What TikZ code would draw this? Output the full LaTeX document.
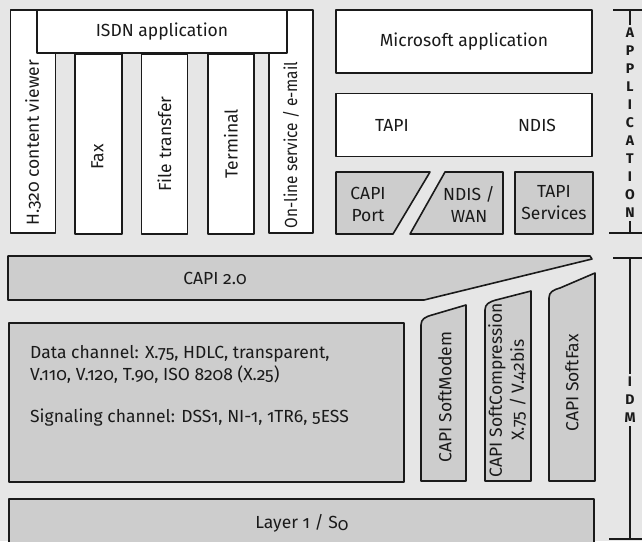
\documentclass[tikz,border=0pt]{standalone}
\usepackage{fontspec}
\setmainfont{Fira Sans}[Numbers=OldStyle]
\usetikzlibrary{positioning}

\definecolor{bggray}{HTML}{E6E6E6}
\definecolor{boxgray}{HTML}{CDCDCD}
\definecolor{edge}{HTML}{1A1A1A}

\tikzset{
  whitebox/.style={draw=edge, fill=white, line width=1.6pt, line join=round, inner sep=0pt},
  graybox/.style={draw=edge, fill=boxgray, line width=1.6pt, line join=round, inner sep=0pt},
  lbl/.style={font=\fontsize{17.5}{22}\selectfont, inner sep=0pt, align=center, text=edge},
  coltext/.style={lbl, rotate=90},
  bracket/.style={draw=edge, line width=1.5pt},
  sidetag/.style={fill=bggray, align=center, inner sep=3pt, text=edge,
    font=\fontsize{14}{18}\selectfont\bfseries}
}

\begin{document}
\begin{tikzpicture}[x=1pt, y=-1pt]
\clip (0,0) rectangle (642,541);
\fill[bggray] (0,0) rectangle (642,541);

\node[whitebox, minimum width=45pt, minimum height=223pt] (h320) at (33,121.5) {};
\node[whitebox, minimum width=44pt, minimum height=223pt] (online) at (291,121.5) {};
\node[whitebox, minimum width=250pt, minimum height=43pt] (isdn) at (162,31.5) {};
\node[lbl] (isdntxt) at (isdn.center) {ISDN application};
\node[whitebox, minimum width=47pt, minimum height=180pt, anchor=north west] (fax) at (74,53) {};
\node[whitebox, minimum width=46pt, minimum height=180pt, right=18pt of fax] (filetr) {};
\node[whitebox, minimum width=46pt, minimum height=180pt, right=19pt of filetr] (term) {};
\node[coltext] (h320txt) at (33,143) {H.320 content viewer};
\node[coltext] (faxtxt) at (97.5,157) {Fax};
\node[coltext] (filetxt) at (filetr.center) {File transfer};
\node[coltext] (termtxt) at (term.center) {Terminal};
\node[coltext] (onlinetxt) at (291,145) {\scalebox{0.88}[1]{On-line service / e-mail}};

\node[whitebox, minimum width=256pt, minimum height=63pt] (msapp) at (464,41.5) {};
\node[lbl] (msapptxt) at (msapp.center) {Microsoft application};
\node[whitebox, minimum width=256pt, minimum height=63pt, below=19pt of msapp] (apilayer) {};
\node[lbl] (tapi) at (392,125) {TAPI};
\node[lbl] (ndis) at (537,125) {NDIS};
\draw[graybox] (336,172) -- (430,172) -- (393,234) -- (336,234) -- cycle;
\node[lbl] (capiport) at (368,204) {CAPI\\Port};
\draw[graybox] (445,172) -- (503,172) -- (503,234) -- (410,234) -- cycle;
\node[lbl] (ndiswan) at (469,204) {NDIS /\\WAN};
\node[graybox, minimum width=78pt, minimum height=62pt] (tapisvc) at (554,203) {};
\node[lbl] (tapisvctxt) at (tapisvc.center) {TAPI\\Services};

\draw[graybox] (8,256) -- (590,256) -- (592,259) -- (424,300) -- (8,300) -- cycle;
\node[lbl] (capi) at (215,278) {CAPI 2.0};
\node[graybox, minimum width=395pt, minimum height=159pt, anchor=north west] (datach) at (8,322) {};
\node[lbl, align=left, anchor=west] (datatxt) at (30,364) {Data channel: X.75, HDLC, transparent,\\V.110, V.120, T.90, ISO 8208 (X.25)};
\node[lbl, anchor=west] (sigtxt) at (30,418) {Signaling channel: DSS1, NI-1, 1TR6, 5ESS};
\draw[graybox] (421,481) -- (421,325) .. controls (421,319) and (425,317) .. (432,315) -- (466,305) -- (466,481) -- cycle;
\node[coltext] (softmodem) at (445,397) {CAPI SoftModem};
\draw[graybox] (485,481) -- (485,310) .. controls (485,304) and (489,302) .. (496,300) -- (531,291) -- (531,481) -- cycle;
\node[coltext] (softcomp) at (507,390) {CAPI SoftCompression\\X.75 / V.42bis};
\draw[graybox] (549,481) -- (549,298) .. controls (549,292) and (553,290) .. (560,288) -- (595,273) -- (595,481) -- cycle;
\node[coltext] (softfax) at (572,383) {CAPI SoftFax};
\node[graybox, minimum width=585pt, minimum height=60pt, anchor=north west] (layer1) at (8,498) {};
\node[lbl] (layer1txt) at (302,523) {Layer 1 / S\raisebox{-0.3ex}{0}};

\coordinate (apptop) at (630,10);
\coordinate (appbot) at (630,233);
\draw[bracket] (apptop) -- (appbot);
\draw[bracket] ([xshift=-17pt]apptop) -- ([xshift=12pt]apptop);
\draw[bracket] ([xshift=-21pt]appbot) -- ([xshift=12pt]appbot);
\node[sidetag] (apptag) at (630,123) {A\\P\\P\\L\\I\\C\\A\\T\\I\\O\\N};

\coordinate (idmtop) at (630,258);
\coordinate (idmbot) at (630,539);
\draw[bracket] (idmtop) -- (idmbot);
\draw[bracket] ([xshift=-17pt]idmtop) -- ([xshift=12pt]idmtop);
\draw[bracket] ([xshift=-21pt]idmbot) -- ([xshift=12pt]idmbot);
\node[sidetag] (idmtag) at (630,400) {I\\D\\M};
\end{tikzpicture}
\end{document}
